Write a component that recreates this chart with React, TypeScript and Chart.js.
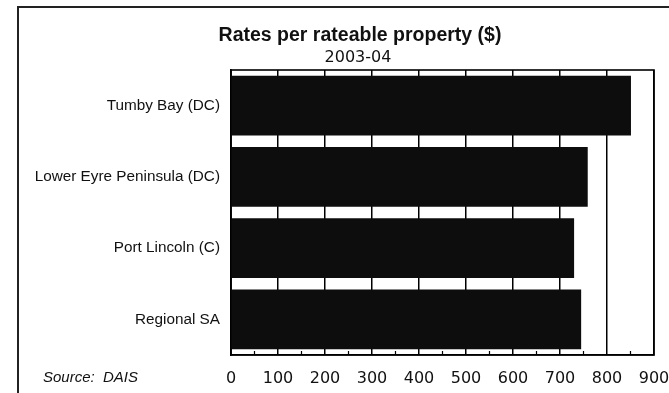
import React, { useEffect, useRef } from "react";
import { Chart, registerables } from "chart.js";

Chart.register(...registerables);

const categories = ["Tumby Bay (DC)", "Lower Eyre Peninsula (DC)", "Port Lincoln (C)", "Regional SA"];
const rates = [851, 759, 730, 745];
const axisMin = 0;
const axisMax = 900;
const axisStep = 100;
const minorTicks = [50, 150, 250, 350, 450, 550, 650, 750, 850];
const titleText = "Rates per rateable property ($)";
const subtitleText = "2003-04";
const sourceText = "Source:  DAIS";

const decorPlugin = {
  id: "decor",
  afterDraw(chart: any) {
    const { ctx, chartArea, scales } = chart;
    const { left, right, top, bottom } = chartArea;
    const x = scales.x;
    ctx.save();
    // outer frame (left and top)
    ctx.strokeStyle = "#222";
    ctx.lineWidth = 2;
    ctx.beginPath();
    ctx.moveTo(18, 393);
    ctx.lineTo(18, 7);
    ctx.lineTo(669, 7);
    ctx.stroke();
    // plot border
    ctx.strokeStyle = "#000";
    ctx.lineWidth = 1.6;
    ctx.strokeRect(left, top, right - left, bottom - top);
    // minor ticks on bottom border
    ctx.lineWidth = 1.2;
    ctx.beginPath();
    minorTicks.forEach((v) => {
      const px = x.getPixelForValue(v);
      ctx.moveTo(px, bottom);
      ctx.lineTo(px, bottom - 4);
    });
    ctx.stroke();
    // title & subtitle
    ctx.fillStyle = "#111";
    ctx.textAlign = "center";
    ctx.textBaseline = "alphabetic";
    ctx.font = 'bold 19.5px "Liberation Sans", Arial, sans-serif';
    ctx.fillText(titleText, 360, 41);
    ctx.font = '16px "DejaVu Sans", sans-serif';
    ctx.fillText(subtitleText, 358, 62);
    // source
    ctx.textAlign = "left";
    ctx.font = 'italic 15px "Liberation Sans", Arial, sans-serif';
    ctx.fillText(sourceText, 43, 382);
    ctx.restore();
  },
};

export default function App() {
  const ref = useRef<HTMLCanvasElement | null>(null);
  useEffect(() => {
    if (!ref.current) return;
    const chart = new Chart(ref.current, {
      type: "bar",
      data: {
        labels: categories,
        datasets: [
          {
            data: rates,
            backgroundColor: "#0d0d0d",
            borderWidth: 0,
            barPercentage: 0.84,
            categoryPercentage: 1,
          },
        ],
      },
      options: {
        indexAxis: "y",
        animation: false,
        responsive: false,
        layout: { padding: { left: 0, top: 70, right: 15, bottom: 0 } },
        plugins: { legend: { display: false }, tooltip: { enabled: false }, title: { display: false } },
        scales: {
          x: {
            min: axisMin,
            max: axisMax,
            ticks: {
              stepSize: axisStep,
              color: "#111",
              font: { family: '"DejaVu Sans", sans-serif', size: 16 },
              padding: 14,
              maxRotation: 0,
            },
            grid: { color: "#000", lineWidth: 1.5, drawTicks: false },
            border: { display: true, color: "#000", width: 1.6 },
            afterFit: (s: any) => {
              s.height = 38;
              s.paddingLeft = 0;
              s.paddingRight = 0;
            },
          },
          y: {
            ticks: {
              color: "#111",
              font: { family: '"Liberation Sans", Arial, sans-serif', size: 15.3 },
              padding: 11,
            },
            grid: { display: false, drawTicks: false },
            border: { display: true, color: "#000", width: 1.6 },
            afterFit: (s: any) => {
              s.width = 231;
              s.paddingTop = 0;
              s.paddingBottom = 0;
            },
          },
        },
      },
      plugins: [decorPlugin],
    });
    return () => chart.destroy();
  }, []);
  return (
    <div style={{ position: "absolute", left: 0, top: 0, width: 669, height: 393, background: "#fff" }}>
      <canvas ref={ref} width={669} height={393} style={{ display: "block" }} />
    </div>
  );
}
